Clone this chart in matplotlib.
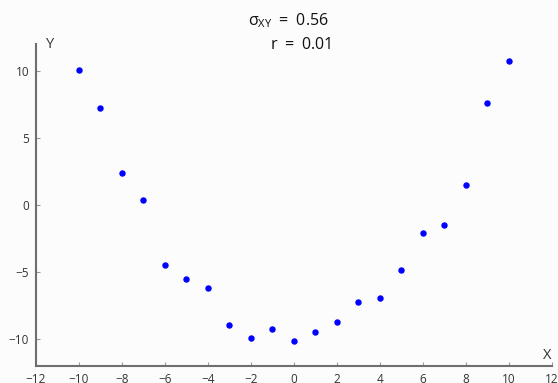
import matplotlib
matplotlib.use("Agg")
import matplotlib.pyplot as plt

# ── data ────────────────────────────────────────────────────────────────
xs = [-10, -9, -8, -7, -6, -5, -4, -3, -2, -1, 0,
      1, 2, 3, 4, 5, 6, 7, 8, 9, 10]
ys = [10.1, 7.25, 2.36, 0.37, -4.45, -5.54, -6.21, -8.97, -9.94, -9.22, -10.16,
      -9.44, -8.7, -7.26, -6.96, -4.82, -2.11, -1.52, 1.46, 7.6, 10.75]
x_ticks = [-12, -10, -8, -6, -4, -2, 0, 2, 4, 6, 8, 10, 12]
y_ticks = [-10, -5, 0, 5, 10]

BG = "#fcfcfc"
SPINE = "#6e6e6e"
TXT = "#333333"

plt.rcParams["font.family"] = ["Open Sans", "DejaVu Sans"]
plt.rcParams["mathtext.fontset"] = "custom"
plt.rcParams["mathtext.rm"] = "Open Sans"
plt.rcParams["mathtext.it"] = "Open Sans"

fig = plt.figure(figsize=(5.58, 3.83), dpi=100, facecolor=BG)
ax = fig.add_axes([0.0645, 0.0444, 0.9245, 0.8406])
ax.set_facecolor(BG)

ax.scatter(xs, ys, s=13, color="#0000ff", zorder=3)

ax.set_xlim(-12, 12)
ax.set_ylim(-12, 12)
ax.set_xticks(x_ticks)
ax.set_yticks(y_ticks)
ax.set_xticklabels([str(t).replace("-", "\u2212") for t in x_ticks])
ax.set_yticklabels([str(t).replace("-", "\u2212") for t in y_ticks])

for side in ["top", "right"]:
    ax.spines[side].set_visible(False)
for side in ["left", "bottom"]:
    ax.spines[side].set_color(SPINE)
    ax.spines[side].set_linewidth(1.5)

ax.tick_params(direction="in", length=3, width=0.8, color="#999999",
               labelsize=8.5, labelcolor=TXT, pad=5)

ax.text(0.02, 1.0, "Y", transform=ax.transAxes, fontsize=10.5,
        color=TXT, ha="left", va="center")
ax.text(1.0, 0.01, "X", transform=ax.transAxes, fontsize=10.5,
        color=TXT, ha="right", va="bottom")

fig.text(0.59, 0.945, r"$\sigma_{XY}\ =\ 0.56$", fontsize=11.5,
         color="#111111", ha="right", va="center")
fig.text(0.595, 0.883, r"$r\ =\ 0.01$", fontsize=11.5,
         color="#111111", ha="right", va="center")

fig.savefig("out.png", dpi=100, facecolor=BG)
